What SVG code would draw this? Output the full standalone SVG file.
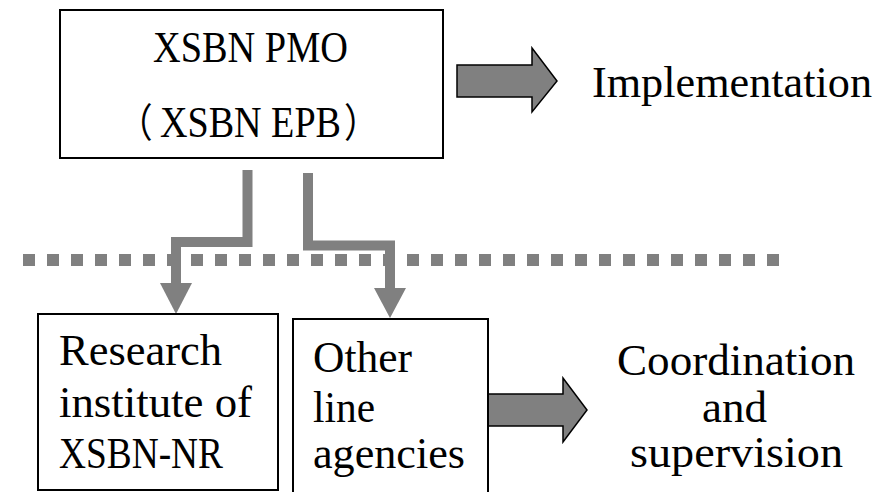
<svg xmlns="http://www.w3.org/2000/svg" width="894" height="492" viewBox="0 0 894 492">
<style>
.box{fill:#fff;stroke:#000;stroke-width:2}
.t{font-family:"Liberation Serif","Noto Sans CJK SC",serif;font-size:44px;fill:#000}
.p{font-family:"Noto Sans CJK SC",sans-serif;font-size:40px}
.blk{fill:#808080;stroke:#000;stroke-width:1.5;stroke-linejoin:miter}
.con{fill:none;stroke:#808080;stroke-width:10;stroke-linejoin:miter}
.head{fill:#808080}
</style>
<rect width="894" height="492" fill="#fff"/>
<line x1="23" y1="260" x2="779" y2="260" stroke="#808080" stroke-width="12" stroke-dasharray="12 12"/>
<g id="connectors">
<path class="con" d="M247.5 170 V242 H176 V285"/>
<polygon class="head" points="160,283 192,283 176,314"/>
<path class="con" d="M308 173 V245.5 H390 V290"/>
<polygon class="head" points="374,288 406,288 390,318"/>
<polygon class="blk" points="457,65 532,65 532,48 557,81 532,112 532,97 457,97"/>
<polygon class="blk" points="488,394 563,394 563,378 587,410 563,442 563,426 488,426"/>
</g>
<g id="pmo">
<rect class="box" x="60" y="10" width="383" height="148"/>
<text class="t" x="153" y="62" textLength="195" lengthAdjust="spacingAndGlyphs">XSBN PMO</text>
<text class="t" transform="translate(118,137) scale(0.866,1)"><tspan class="p" x="0">（</tspan><tspan x="48.5">XSBN EPB</tspan><tspan class="p" x="261">）</tspan></text>
</g>
<g id="implementation">
<text class="t" x="592" y="97" textLength="280" lengthAdjust="spacingAndGlyphs">Implementation</text>
</g>
<g id="research">
<rect class="box" x="38" y="314" width="240" height="176"/>
<text class="t" x="59" y="365" textLength="163" lengthAdjust="spacingAndGlyphs">Research</text>
<text class="t" x="59" y="417" textLength="193" lengthAdjust="spacingAndGlyphs">institute of</text>
<text class="t" x="59" y="468" textLength="164" lengthAdjust="spacingAndGlyphs">XSBN-NR</text>
</g>
<g id="other">
<rect class="box" x="293" y="319" width="195" height="180"/>
<text class="t" x="313" y="372" textLength="99" lengthAdjust="spacingAndGlyphs">Other</text>
<text class="t" x="313" y="422" textLength="62" lengthAdjust="spacingAndGlyphs">line</text>
<text class="t" x="313" y="468" textLength="152" lengthAdjust="spacingAndGlyphs">agencies</text>
</g>
<g id="coordination">
<text class="t" x="617" y="375" textLength="238" lengthAdjust="spacingAndGlyphs">Coordination</text>
<text class="t" x="702" y="422" textLength="65" lengthAdjust="spacingAndGlyphs">and</text>
<text class="t" x="630" y="467" textLength="213" lengthAdjust="spacingAndGlyphs">supervision</text>
</g>
</svg>
